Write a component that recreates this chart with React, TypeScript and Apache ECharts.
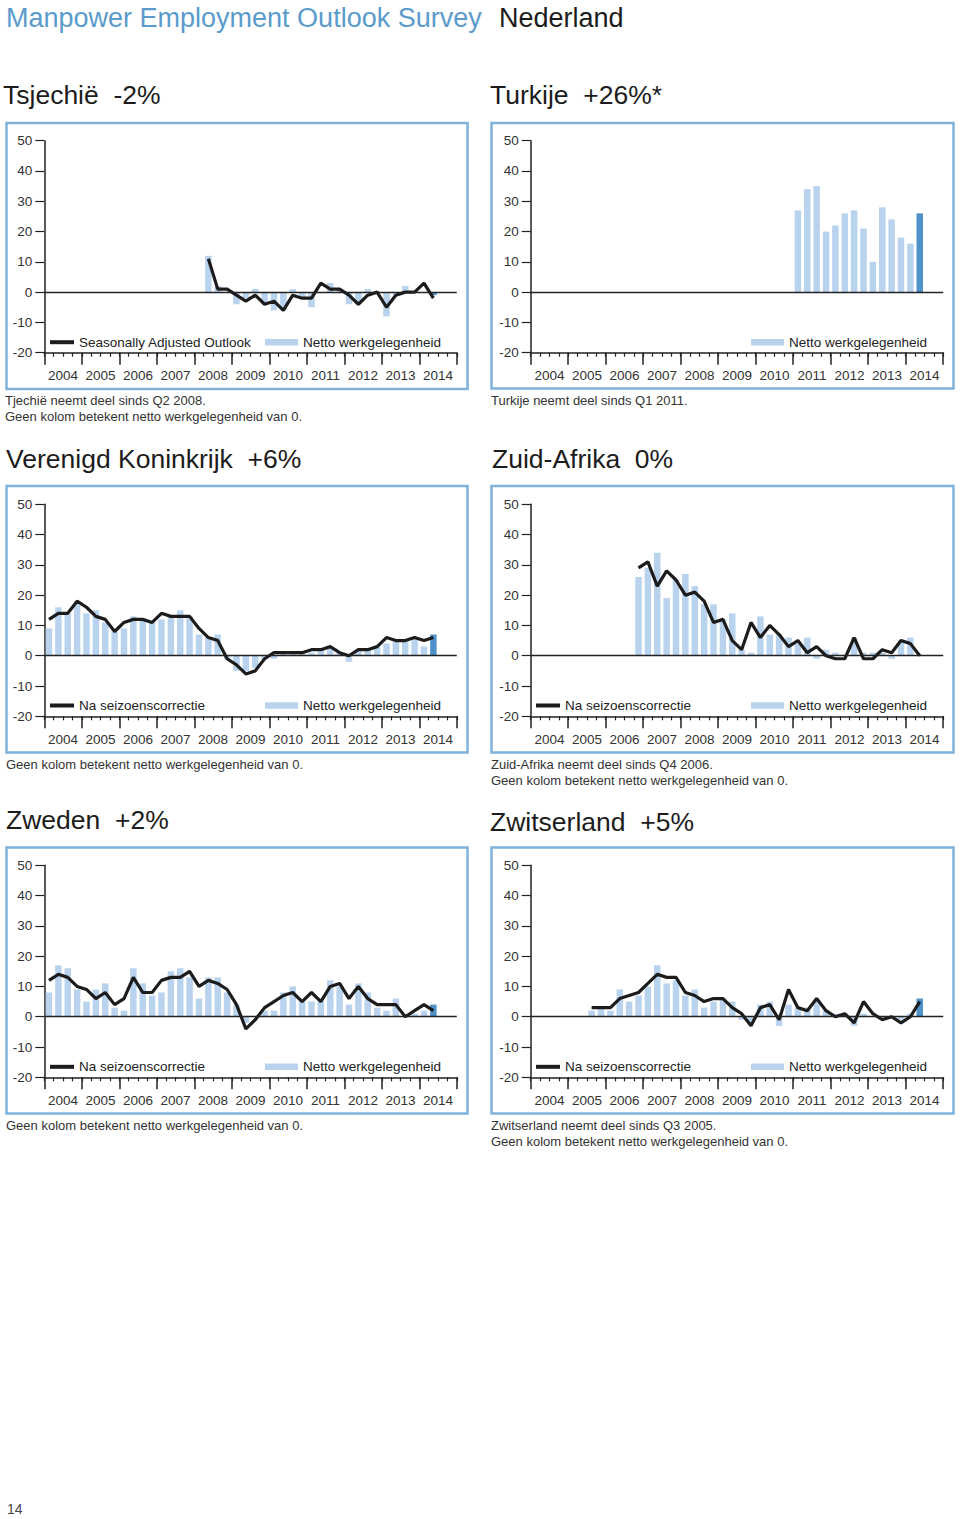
import React, { useEffect, useRef } from 'react';
import * as echarts from 'echarts';

// ---------- categories ----------
const YEARS = ['2004', '2005', '2006', '2007', '2008', '2009', '2010', '2011', '2012', '2013', '2014'];
const QUARTER_NAMES = ['Q1', 'Q2', 'Q3', 'Q4'];
const QUARTERS = YEARS.flatMap((y) => QUARTER_NAMES.map((q) => `${y} ${q}`));
const Y_TICKS = { min: -20, max: 50, interval: 10 };

const lead = (n: number, arr: number[]) => [...Array(n).fill(null), ...arr];

// ---------- data (2004 Q1 .. 2014 Q2) ----------
// Tsjechië (from Q2 2008)
const czBars = lead(17, [12, 2, 0, -4, -2, 1, -4, -6, -6, 1, -2, -5, 0, 3, 1, -4, -4, 1, 0, -8, -1, 2, 0, 0, -1]);
const czLine = lead(17, [11, 1, 1, -1, -3, -1, -4, -3, -6, -1, -2, -2, 3, 1, 1, -1, -4, -1, 0, -5, -1, 0, 0, 3, -2]);

// Turkije (from Q1 2011)
const trBars = lead(28, [27, 34, 35, 20, 22, 26, 27, 21, 10, 28, 24, 18, 16, 26]);

// Verenigd Koninkrijk
const ukBars = [9, 16, 14, 17, 14, 15, 11, 8, 9, 13, 12, 11, 12, 13, 15, 13, 7, 6, 7, -1, -5, -5, -4, -1, -1, 1, 1, 1, 1, 2, 3, 1, -2, 2, 2, 3, 4, 5, 5, 6, 3, 7];
const ukLine = [12, 14, 14, 18, 16, 13, 12, 8, 11, 12, 12, 11, 14, 13, 13, 13, 9, 6, 5, -1, -3, -6, -5, -1, 1, 1, 1, 1, 2, 2, 3, 1, 0, 2, 2, 3, 6, 5, 5, 6, 5, 6];

// Zuid-Afrika (from Q4 2006)
const zaBars = lead(11, [26, 29, 34, 19, 25, 27, 23, 17, 17, 12, 14, 2, 1, 13, 7, 7, 6, 4, 6, -1, 2, 1, 0, 6, 1, 1, 1, -1, 5, 6, 0]);
const zaLine = lead(11, [29, 31, 23, 28, 25, 20, 21, 18, 11, 12, 5, 2, 11, 6, 10, 7, 3, 5, 1, 3, 0, -1, -1, 6, -1, -1, 2, 1, 5, 4, 0]);

// Zweden
const seBars = [8, 17, 16, 9, 5, 9, 11, 3, 2, 16, 11, 7, 8, 15, 16, 13, 6, 13, 13, 8, 4, -2, 0, 2, 2, 8, 10, 5, 5, 5, 12, 10, 4, 11, 8, 3, 2, 6, 0, 1, 2, 4];
const seLine = [12, 14, 13, 10, 9, 6, 8, 4, 6, 13, 8, 8, 12, 13, 13, 15, 10, 12, 11, 9, 4, -4, -1, 3, 5, 7, 8, 5, 8, 5, 10, 11, 6, 10, 6, 4, 4, 4, 0, 2, 4, 2];

// Zwitserland (from Q3 2005)
const chBars = lead(6, [2, 3, 2, 9, 5, 7, 10, 17, 11, 12, 7, 9, 3, 5, 6, 5, -1, -2, 4, 5, -3, 4, 3, 3, 5, 2, 1, 1, -3, 1, 0, -1, 0, -1, 1, 6]);
const chLine = lead(6, [3, 3, 3, 6, 7, 8, 11, 14, 13, 13, 8, 7, 5, 6, 6, 3, 1, -3, 3, 4, -1, 9, 3, 2, 6, 2, 0, 1, -2, 5, 1, -1, 0, -2, 0, 5]);

// ---------- texts ----------
const HEADER = 'Manpower Employment Outlook Survey';
const HEADER_COUNTRY = 'Nederland';
const BAR_NAME = 'Netto werkgelegenheid';
const LINE_NAME = 'Na seizoenscorrectie';
const LINE_NAME_EN = 'Seasonally Adjusted Outlook';
const NOTE_ZERO = 'Geen kolom betekent netto werkgelegenheid van 0.';
const PAGE_NUMBER = '14';

// ---------- styling ----------
const FONT = '"Liberation Sans", Arial, Helvetica, sans-serif';
const LIGHT = '#b9d3ee';
const DARK = '#4e92c9';
const INK = '#1c1c1c';
const FRAME = '#80b3db';
const BLUE_TITLE = '#5a9bcc';

const PLOT_W = 412.5;
const PLOT_H = 212;

interface Panel {
  title: string;
  tx: number;
  ty: number;
  gl: number;
  gt: number;
  bars: (number | null)[];
  line: (number | null)[] | null;
  lineName: string;
  notes: string[];
  nx: number;
  ny: number;
  frame: [number, number, number, number];
  legY: number;
  legLineX: number;
  legBarX: number;
}

const PANELS: Panel[] = [
  {
    title: 'Tsjechië  -2%', tx: 3, ty: 94.5, gl: 44.3, gt: 140.7,
    bars: czBars, line: czLine, lineName: LINE_NAME_EN,
    notes: ['Tjechië neemt deel sinds Q2 2008.', NOTE_ZERO], nx: 5, ny: 400.5,
    frame: [6.5, 123, 461, 266], legY: 342.7, legLineX: 50, legBarX: 265,
  },
  {
    title: 'Turkije  +26%*', tx: 490, ty: 94.5, gl: 530.7, gt: 140.7,
    bars: trBars, line: null, lineName: '',
    notes: ['Turkije neemt deel sinds Q1 2011.'], nx: 491, ny: 400.5,
    frame: [491.5, 123, 462, 265.5], legY: 342.7, legLineX: 536, legBarX: 751,
  },
  {
    title: 'Verenigd Koninkrijk  +6%', tx: 6, ty: 459, gl: 44.3, gt: 504.3,
    bars: ukBars, line: ukLine, lineName: LINE_NAME,
    notes: [NOTE_ZERO], nx: 6, ny: 764.5,
    frame: [6.5, 486, 461, 266.5], legY: 706, legLineX: 50, legBarX: 265,
  },
  {
    title: 'Zuid-Afrika  0%', tx: 492, ty: 459, gl: 530.7, gt: 504.3,
    bars: zaBars, line: zaLine, lineName: LINE_NAME,
    notes: ['Zuid-Afrika neemt deel sinds Q4 2006.', NOTE_ZERO], nx: 491, ny: 764.5,
    frame: [491.5, 486, 462, 266.5], legY: 706, legLineX: 536, legBarX: 751,
  },
  {
    title: 'Zweden  +2%', tx: 6, ty: 820, gl: 44.3, gt: 865.3,
    bars: seBars, line: seLine, lineName: LINE_NAME,
    notes: [NOTE_ZERO], nx: 6, ny: 1125,
    frame: [6.5, 847.5, 461, 266], legY: 1067.3, legLineX: 50, legBarX: 265,
  },
  {
    title: 'Zwitserland  +5%', tx: 490, ty: 822, gl: 530.7, gt: 865.3,
    bars: chBars, line: chLine, lineName: LINE_NAME,
    notes: ['Zwitserland neemt deel sinds Q3 2005.', NOTE_ZERO], nx: 491, ny: 1125,
    frame: [491.5, 847.5, 462, 266], legY: 1067.3, legLineX: 536, legBarX: 751,
  },
];

function buildOption() {
  const grid: any[] = [];
  const xAxis: any[] = [];
  const yAxis: any[] = [];
  const series: any[] = [];
  const legend: any[] = [];
  const graphic: any[] = [];

  graphic.push({
    type: 'text', x: 6, y: 17.5,
    style: { text: HEADER, fontSize: 27, fontFamily: FONT, fill: BLUE_TITLE, align: 'left', verticalAlign: 'middle' },
  });
  graphic.push({
    type: 'text', x: 499, y: 17.5,
    style: { text: HEADER_COUNTRY, fontSize: 27, fontFamily: FONT, fill: INK, align: 'left', verticalAlign: 'middle' },
  });
  graphic.push({
    type: 'text', x: 7, y: 1509,
    style: { text: PAGE_NUMBER, fontSize: 14, fontFamily: FONT, fill: '#444', align: 'left', verticalAlign: 'middle' },
  });

  PANELS.forEach((p, i) => {
    grid.push({ left: p.gl, top: p.gt, width: PLOT_W, height: PLOT_H, containLabel: false });

    xAxis.push({
      type: 'category', gridIndex: i, data: QUARTERS, position: 'bottom', boundaryGap: true,
      axisLine: { show: true, onZero: false, lineStyle: { color: '#222', width: 1.5 } },
      axisTick: { show: true, interval: 0, length: 4, lineStyle: { color: '#222', width: 1.2 } },
      axisLabel: { show: false }, splitLine: { show: false },
    });
    xAxis.push({
      type: 'category', gridIndex: i, data: YEARS, position: 'bottom', boundaryGap: true,
      axisLine: { show: false, onZero: false },
      axisTick: { show: true, interval: 0, length: 12, lineStyle: { color: '#222', width: 1.5 } },
      axisLabel: { interval: 0, fontSize: 13.5, color: '#333', margin: 16, fontFamily: FONT },
      splitLine: { show: false },
    });
    yAxis.push({
      type: 'value', gridIndex: i, min: Y_TICKS.min, max: Y_TICKS.max, interval: Y_TICKS.interval,
      axisLine: { show: true, lineStyle: { color: '#222', width: 1.5 } },
      axisTick: { show: true, length: 9, lineStyle: { color: '#222', width: 1.2 } },
      axisLabel: { fontSize: 13.5, color: '#333', margin: 12, fontFamily: FONT },
      splitLine: { show: false },
    });

    const lastIdx = p.bars.length - 1;
    series.push({
      type: 'bar', name: BAR_NAME, xAxisIndex: i * 2, yAxisIndex: i,
      data: p.bars.map((v, j) => (j === lastIdx && v !== null ? { value: v, itemStyle: { color: DARK } } : v)),
      barWidth: 6.5, itemStyle: { color: LIGHT }, z: 2,
      markLine: {
        silent: true, symbol: ['none', 'none'], label: { show: false },
        lineStyle: { color: '#222', width: 1.3, type: 'solid' },
        emphasis: { disabled: true },
        data: [{ yAxis: 0 }],
      },
    });
    if (p.line) {
      series.push({
        type: 'line', name: p.lineName, xAxisIndex: i * 2, yAxisIndex: i,
        data: p.line, symbol: 'none', connectNulls: false, z: 4,
        color: INK, lineStyle: { color: INK, width: 3.2 }, itemStyle: { color: INK },
      });
      legend.push({
        left: p.legLineX, top: p.legY - 7.5, icon: 'rect', itemWidth: 24, itemHeight: 4, padding: 0,
        selectedMode: false, data: [p.lineName],
        textStyle: { fontSize: 13.5, color: '#222', fontFamily: FONT },
      });
    }
    legend.push({
      left: p.legBarX, top: p.legY - 7.5, icon: 'rect', itemWidth: 33, itemHeight: 6.5, padding: 0,
      selectedMode: false, data: [BAR_NAME],
      textStyle: { fontSize: 13.5, color: '#222', fontFamily: FONT },
    });

    const [fx, fy, fw, fh] = p.frame;
    graphic.push({
      type: 'rect', shape: { x: fx, y: fy, width: fw, height: fh },
      style: { fill: 'none', stroke: FRAME, lineWidth: 2.5 }, z: 0, silent: true,
    });
    graphic.push({
      type: 'text', x: p.tx, y: p.ty,
      style: { text: p.title, fontSize: 26.5, fontFamily: FONT, fill: INK, align: 'left', verticalAlign: 'middle' },
    });
    p.notes.forEach((n, k) => {
      graphic.push({
        type: 'text', x: p.nx, y: p.ny + k * 16,
        style: { text: n, fontSize: 13, fontFamily: FONT, fill: '#333', align: 'left', verticalAlign: 'middle' },
      });
    });
  });

  return {
    animation: false,
    backgroundColor: '#ffffff',
    textStyle: { fontFamily: FONT },
    grid, xAxis, yAxis, series, legend, graphic,
  };
}

export default function App() {
  const ref = useRef<HTMLDivElement>(null);
  useEffect(() => {
    if (!ref.current) return;
    const chart = echarts.init(ref.current, undefined, { renderer: 'svg' });
    chart.setOption(buildOption() as any);
    return () => chart.dispose();
  }, []);
  return <div ref={ref} style={{ position: 'absolute', left: 0, top: 0, width: 960, height: 1519 }} />;
}
